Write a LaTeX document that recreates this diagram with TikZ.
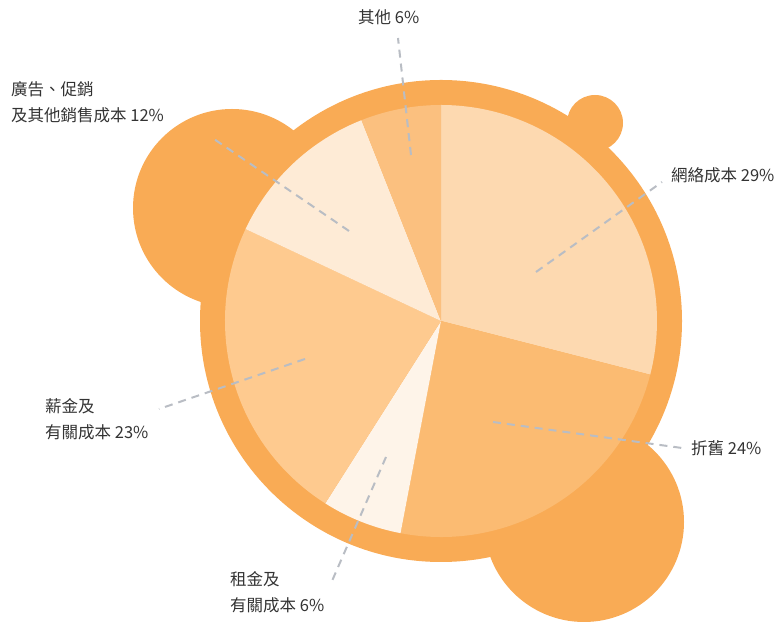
\documentclass[tikz,border=0pt]{standalone}
\usepackage{fontspec}
\setmainfont{Noto Sans CJK TC}
\usepackage{tikz}
\definecolor{ring}{HTML}{F9AB55}
\definecolor{netc}{HTML}{FDD9B0}
\definecolor{depc}{HTML}{FBBB72}
\definecolor{rentc}{HTML}{FEF4E9}
\definecolor{salc}{HTML}{FECA8F}
\definecolor{advc}{HTML}{FEEBD6}
\definecolor{othc}{HTML}{FBC07F}
\definecolor{lead}{HTML}{B9BDC4}
\definecolor{txt}{HTML}{333333}
\begin{document}
\begin{tikzpicture}[x=1pt,y=1pt,
	lbl/.style={anchor=west,inner sep=0pt,align=left,text=txt,font=\fontsize{16.5}{26}\selectfont},
	leader/.style={draw=lead,line width=2pt,dash pattern=on 8pt off 6pt}]
    \useasboundingbox (0,0) rectangle (779,623);
    \coordinate (o) at (441,302);
    \fill[ring] (232,415) circle[radius=99];
    \fill[ring] (595,500) circle[radius=28];
    \fill[ring] (584,101) circle[radius=100];
    \fill[ring] (o) circle[radius=241];
    \foreach \a/\b/\c in {90/-14.4/netc,-14.4/-100.8/depc,-100.8/-122.4/rentc,-122.4/-205.2/salc,-205.2/-248.4/advc,-248.4/-270/othc}
      \fill[\c] (o) -- ++(\a:216) arc[start angle=\a,end angle=\b,radius=216] -- cycle;
    \node[lbl] (oth) at (358,606) {其他 6\%};
    \node[lbl] (adv) at (11,521) {廣告、促銷\\及其他銷售成本 12\%};
    \node[lbl] (net) at (671,448) {網絡成本 29\%};
    \node[lbl] (dep) at (691,175) {折舊 24\%};
    \node[lbl] (sal) at (45,204) {薪金及\\有關成本 23\%};
    \node[lbl] (rent) at (230,30.5) {租金及\\有關成本 6\%};
    \coordinate (oth1) at (411,468); \coordinate (oth2) at (398,585);
    \coordinate (adv1) at (349,392); \coordinate (adv2) at (211,486);
    \coordinate (net1) at (536,351); \coordinate (net2) at (662,441);
    \coordinate (dep1) at (493,201); \coordinate (dep2) at (682,175);
    \coordinate (sal1) at (305,264); \coordinate (sal2) at (159,214);
    \coordinate (rent1) at (386,166); \coordinate (rent2) at (332,42);
    \foreach \n in {oth,adv,net,dep,sal,rent}
      \draw[leader] (\n1) -- (\n2);
  \end{tikzpicture}
\end{document}
